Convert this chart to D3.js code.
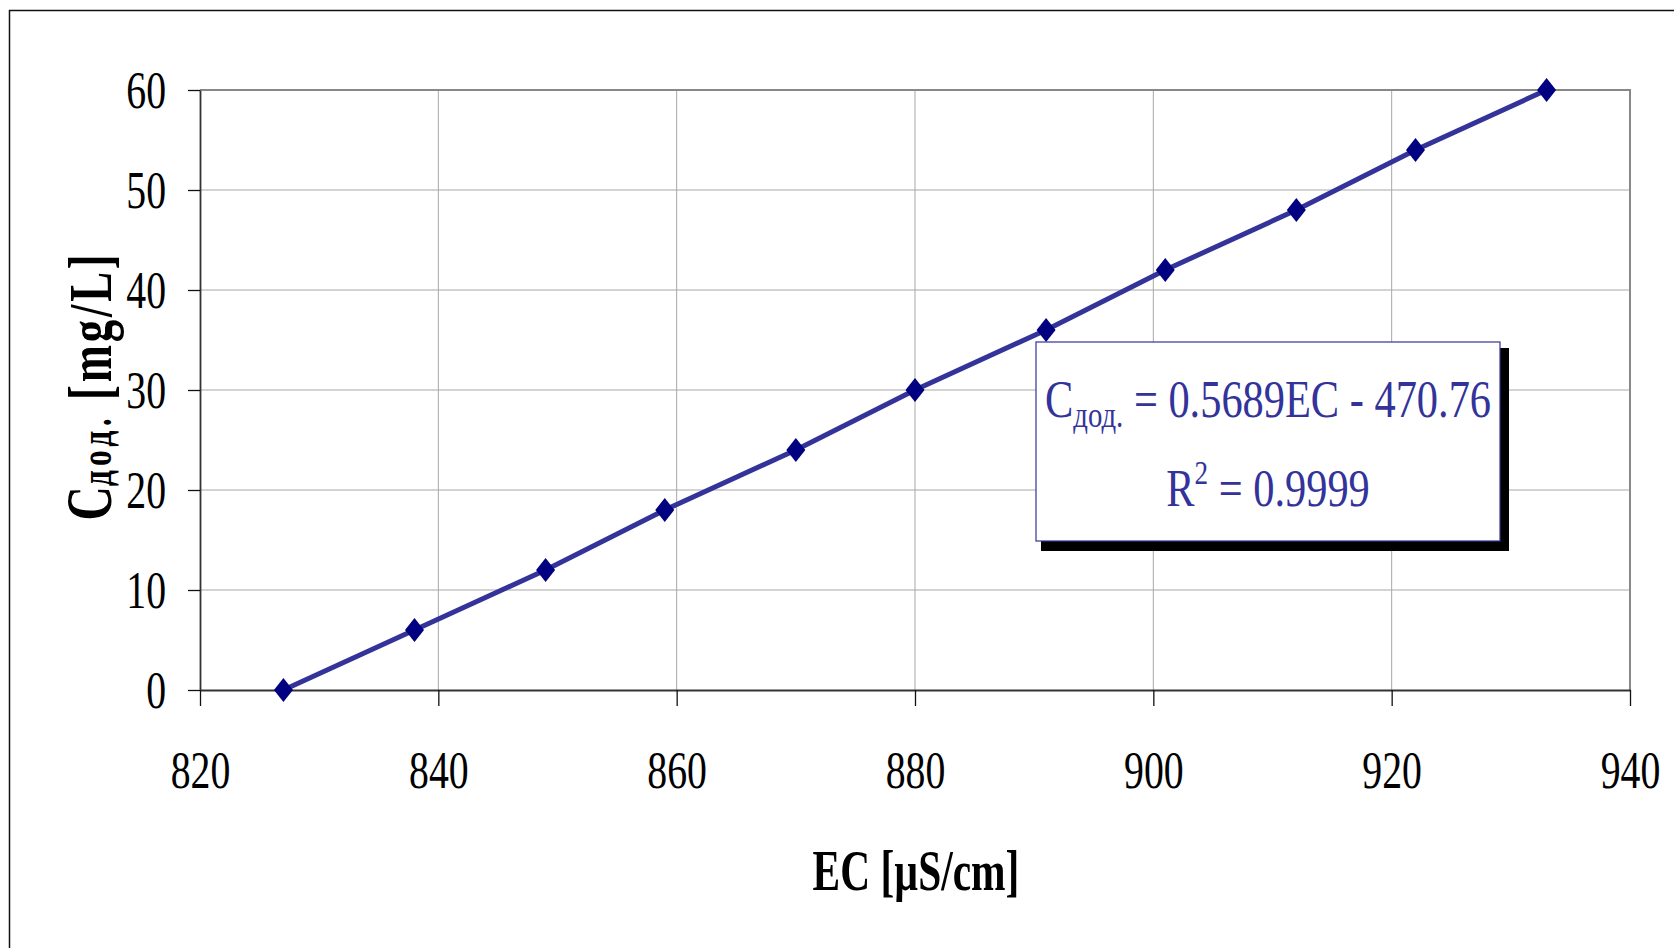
<!DOCTYPE html>
<meta charset="utf-8">
<html>
<head>
<script src="https://cdn.jsdelivr.net/npm/d3@7"></script>
<style>
  body { margin: 0; background: #fff; }
  text { font-family: "Liberation Serif", "Times New Roman", serif; }
</style>
</head>
<body>
<div id="chart"></div>
<script>
  // calibration points
  const ec = [827, 838, 849, 859, 870, 880, 891, 901, 912, 922, 933];
  const conc = [0, 6, 12, 18, 24, 30, 36, 42, 48, 54, 60];
  const xTicks = [820, 840, 860, 880, 900, 920, 940];
  const yTicks = [0, 10, 20, 30, 40, 50, 60];
  const slope = "0.5689", intercept = "470.76", r2 = "0.9999";

  const W = 1674, H = 948;
  const margin = {top: 90, right: 44, bottom: 258, left: 200},
      width = W - margin.left - margin.right,
      height = H - margin.top - margin.bottom;

  const svg = d3.select("#chart")
    .append("svg")
      .attr("width", W)
      .attr("height", H);

  // outer chart border (only top and left are inside the picture)
  svg.append("rect")
    .attr("x", 9.5).attr("y", 10.5)
    .attr("width", W + 50).attr("height", H + 50)
    .attr("fill", "#fff")
    .attr("stroke", "#111")
    .attr("stroke-width", 1.5);

  const g = svg.append("g")
    .attr("transform", `translate(${margin.left},${margin.top})`);

  const x = d3.scaleLinear().domain([820, 940]).range([0, width]);
  const y = d3.scaleLinear().domain([0, 60]).range([height, 0]);

  // grid
  g.selectAll(".vgrid").data(xTicks.slice(1, -1)).join("line")
    .attr("class", "vgrid")
    .attr("x1", d => x(d)).attr("x2", d => x(d))
    .attr("y1", 0).attr("y2", height)
    .attr("stroke", "#a8a8a8").attr("stroke-width", 1);
  g.selectAll(".hgrid").data(yTicks.slice(1, -1)).join("line")
    .attr("class", "hgrid")
    .attr("x1", 0).attr("x2", width)
    .attr("y1", d => y(d)).attr("y2", d => y(d))
    .attr("stroke", "#a8a8a8").attr("stroke-width", 1);

  // top + right frame
  g.append("path")
    .attr("d", `M0,0H${width}V${height}`)
    .attr("fill", "none")
    .attr("stroke", "#888")
    .attr("stroke-width", 2);

  const sx = 0.75; // the fonts in the picture are squeezed sideways

  const xAxis = g.append("g")
    .attr("transform", `translate(0,${height})`)
    .call(d3.axisBottom(x).tickValues(xTicks).tickSize(16).tickSizeOuter(0).tickFormat(d3.format("d")));
  xAxis.selectAll("text")
    .attr("y", 98).attr("dy", null)
    .attr("transform", `scale(${sx},1)`)
    .attr("font-size", 53)
    .attr("fill", "#000");

  const yAxis = g.append("g")
    .call(d3.axisLeft(y).tickValues(yTicks).tickSize(12).tickSizeOuter(0));
  yAxis.selectAll("text")
    .attr("x", -34 / sx).attr("dy", 17)
    .attr("transform", `scale(${sx},1)`)
    .attr("font-size", 53)
    .attr("fill", "#000");

  [xAxis, yAxis].forEach(a => {
    a.select(".domain").attr("stroke", "#333").attr("stroke-width", 1.8);
    a.selectAll(".tick line").attr("stroke", "#111").attr("stroke-width", 1.3);
  });

  // series
  const pts = ec.map((d, i) => [d, conc[i]]);
  g.append("path")
    .datum(pts)
    .attr("fill", "none")
    .attr("stroke", "#333399")
    .attr("stroke-width", 5)
    .attr("d", d3.line().x(d => x(d[0])).y(d => y(d[1])));

  g.selectAll(".pt").data(pts).join("path")
    .attr("class", "pt")
    .attr("transform", d => `translate(${x(d[0])},${y(d[1])})`)
    .attr("d", "M0,-12L9.5,0L0,12L-9.5,0Z")
    .attr("fill", "#000080");

  // axis titles
  svg.append("text")
    .attr("transform", `translate(916,890) scale(0.74,1)`)
    .attr("text-anchor", "middle")
    .attr("font-size", 56)
    .attr("font-weight", "bold")
    .text("EC [µS/cm]");

  const yt = svg.append("text")
    .attr("transform", "translate(111,386) rotate(-90) scale(0.72,1)")
    .attr("text-anchor", "middle")
    .attr("font-weight", "bold");
  yt.append("tspan").attr("font-size", 66).text("C");
  yt.append("tspan").attr("font-size", 44).attr("letter-spacing", 6).text("дод.");
  yt.append("tspan").attr("font-size", 62).attr("letter-spacing", 4).text(" [mg/L]");

  // trendline label
  const box = {x: 1036, y: 342, w: 464, h: 199};
  svg.append("rect")
    .attr("x", box.x + 5).attr("y", box.y + 6)
    .attr("width", box.w + 4).attr("height", box.h + 4)
    .attr("fill", "#000");
  svg.append("rect")
    .attr("x", box.x).attr("y", box.y)
    .attr("width", box.w).attr("height", box.h)
    .attr("fill", "#fff")
    .attr("stroke", "#333399")
    .attr("stroke-width", 1.2);

  const cx = box.x + box.w / 2;
  const eq1 = svg.append("text")
    .attr("transform", `translate(${cx},417) scale(0.8,1)`)
    .attr("text-anchor", "middle")
    .attr("font-size", 53)
    .attr("fill", "#333399");
  eq1.append("tspan").text("C");
  eq1.append("tspan").attr("font-size", 36).attr("dy", 10).text("дод.");
  eq1.append("tspan").attr("dy", -10).text(` = ${slope}EC - ${intercept}`);

  const eq2 = svg.append("text")
    .attr("transform", `translate(${cx},506) scale(0.8,1)`)
    .attr("text-anchor", "middle")
    .attr("font-size", 53)
    .attr("fill", "#333399");
  eq2.append("tspan").text("R");
  eq2.append("tspan").attr("font-size", 34).attr("dy", -22).text("2");
  eq2.append("tspan").attr("dy", 22).text(` = ${r2}`);
</script>
</body>
</html>
